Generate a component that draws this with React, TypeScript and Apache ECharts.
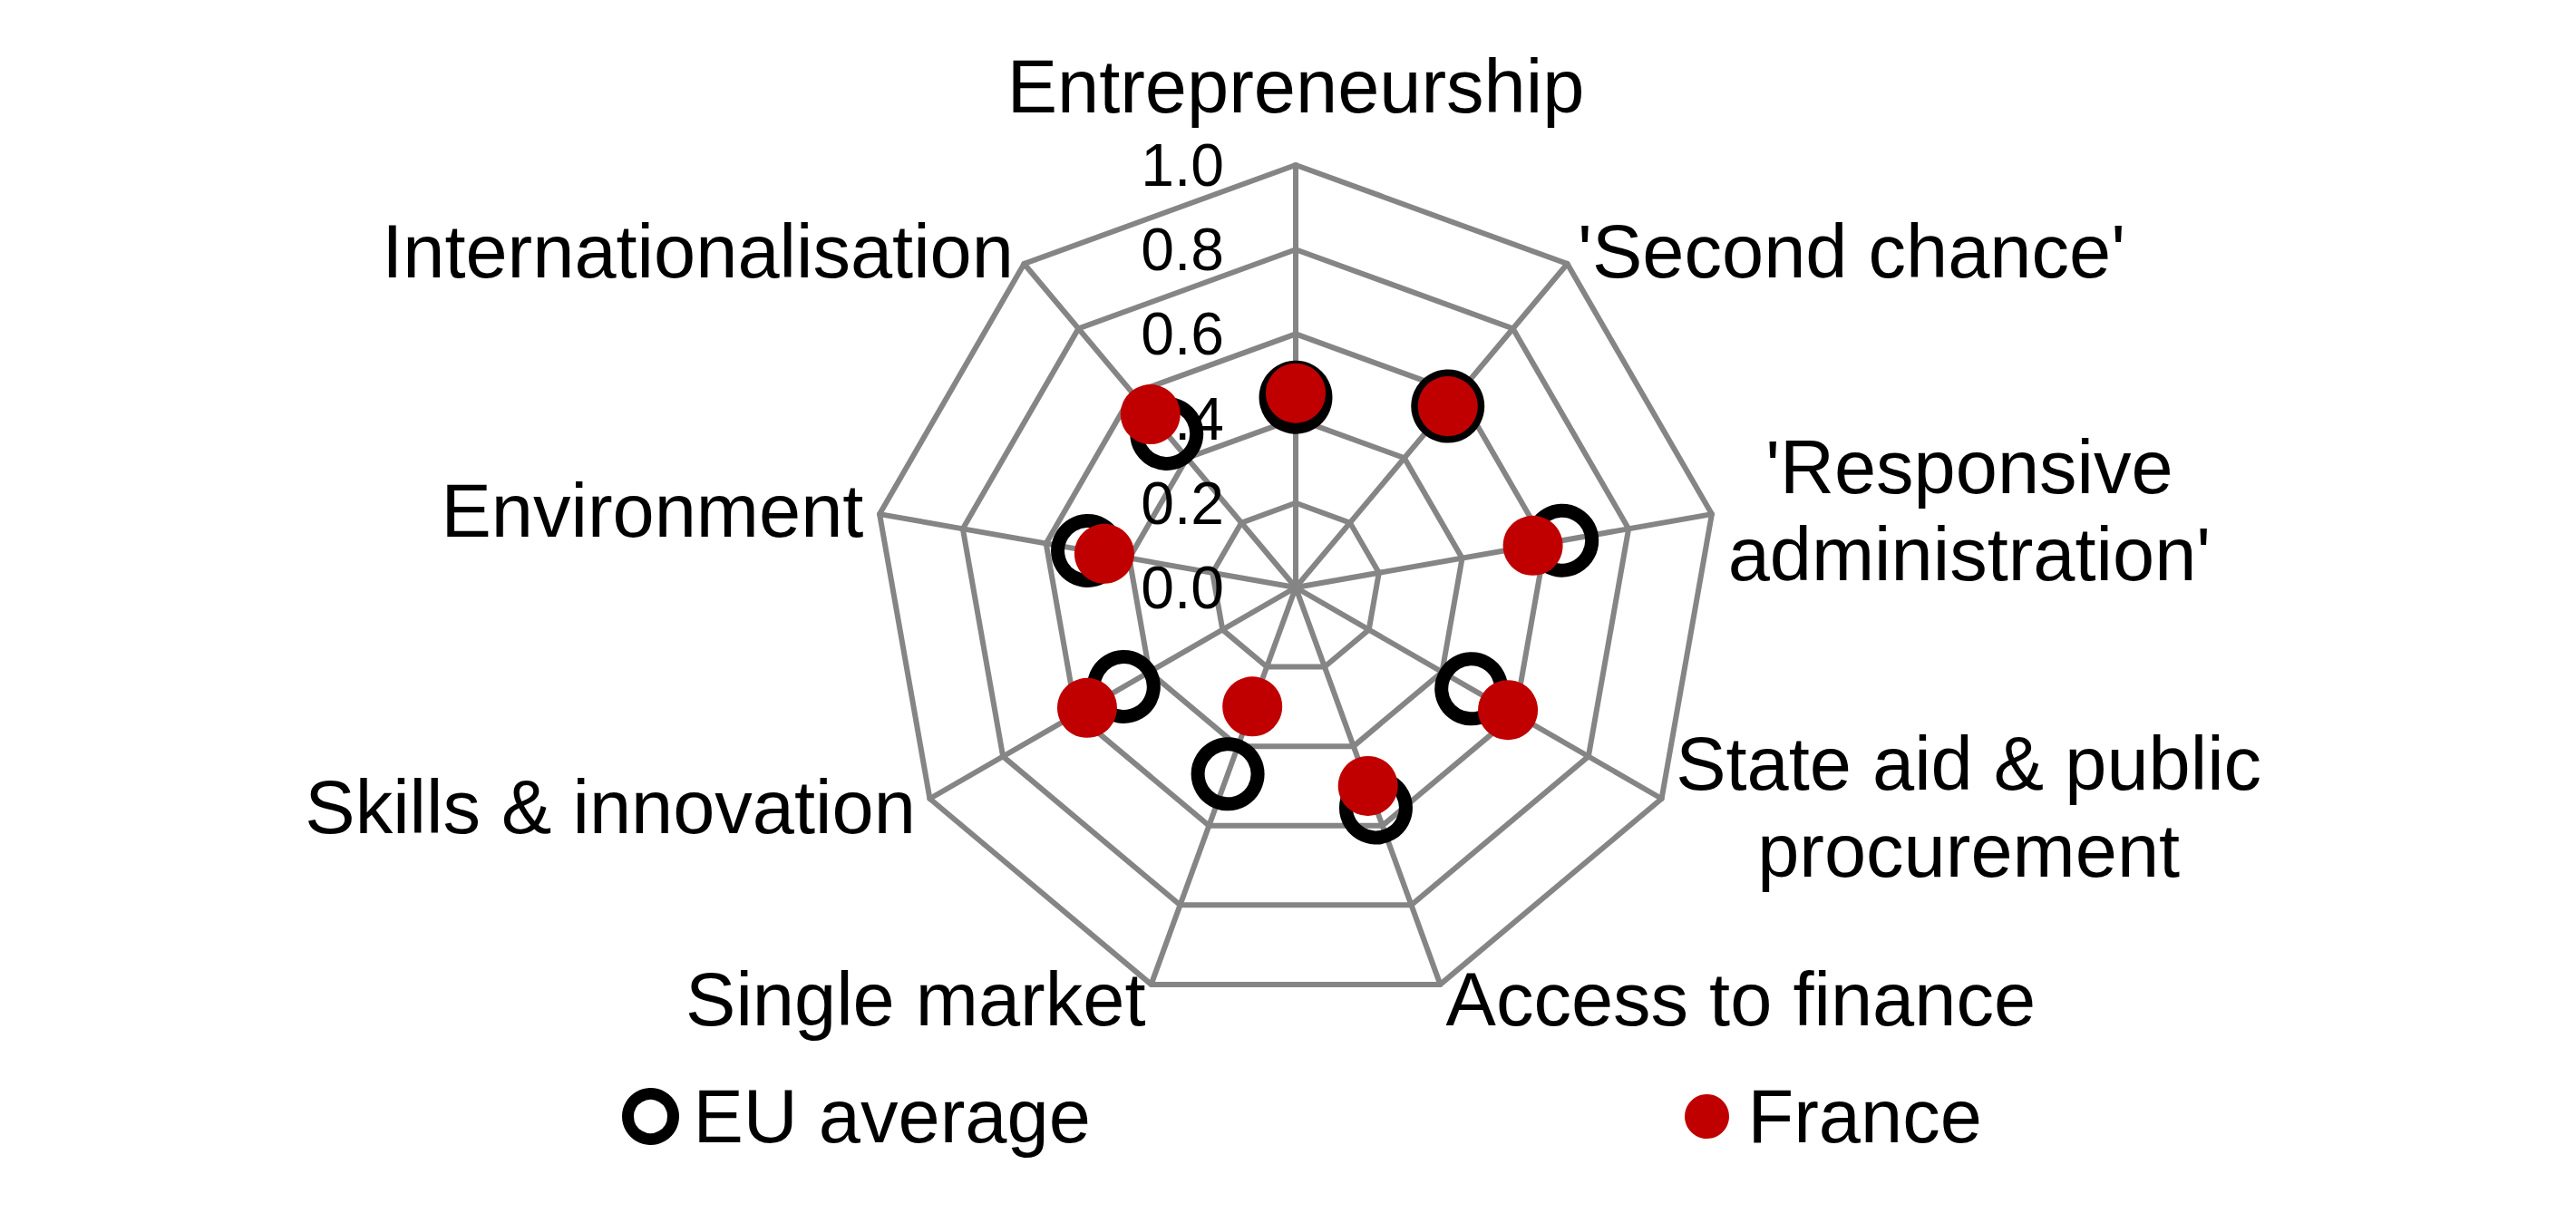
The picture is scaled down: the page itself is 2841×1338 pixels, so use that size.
import React, { useEffect, useRef } from "react";
import * as echarts from "echarts";

// Indicators listed in ECharts' drawing order (starting at top, counter-clockwise)
const categories = [
  "Entrepreneurship",
  "Internationalisation",
  "Environment",
  "Skills & innovation",
  "Single market",
  "Access to finance",
  "State aid & public\nprocurement",
  "'Responsive\nadministration'",
  "'Second chance'",
];
const euAverage = [0.45, 0.475, 0.5, 0.47, 0.47, 0.555, 0.48, 0.64, 0.56];
const france = [0.46, 0.535, 0.46, 0.57, 0.3, 0.5, 0.58, 0.57, 0.56];
const axisMax = 1.0;
const seriesNames = ["EU average", "France"];

const FONT = "'Liberation Sans', Arial, Helvetica, sans-serif";
const GRID = "#858585";
const RED = "#C00000";

export default function App() {
  const ref = useRef<HTMLDivElement>(null);
  useEffect(() => {
    if (!ref.current) return;
    const chart = echarts.init(ref.current, undefined, { renderer: "svg" });
    const indicator = categories.map((name, i) => {
      const ind: any = { name, min: 0, max: axisMax };
      if (i === 0) {
        ind.axisLabel = {
          show: true,
          fontSize: 66,
          fontFamily: FONT,
          color: "#000",
          margin: 79,
          lineHeight: 50,
          formatter: (v: number) => v.toFixed(1),
        };
      }
      return ind;
    });
    chart.setOption({
      animation: false,
      backgroundColor: "#fff",
      textStyle: { fontFamily: FONT },
      legend: [
        {
          data: [
            {
              name: seriesNames[0],
              icon: "circle",
              itemStyle: { color: "rgba(0,0,0,0)", borderColor: "#000", borderWidth: 13 },
            },
          ],
          left: 686,
          top: 1190,
          padding: 0,
          itemWidth: 84,
          itemHeight: 50,
          textStyle: { fontSize: 83, fontFamily: FONT, color: "#000" },
        },
        {
          data: [{ name: seriesNames[1], icon: "circle", itemStyle: { color: RED, borderWidth: 0 } }],
          left: 1858,
          top: 1190,
          padding: 0,
          itemWidth: 80,
          itemHeight: 49,
          textStyle: { fontSize: 83, fontFamily: FONT, color: "#000" },
        },
      ],
      radar: {
        center: [1429, 648],
        radius: 466,
        startAngle: 90,
        splitNumber: 5,
        shape: "polygon",
        indicator,
        nameGap: 18,
        axisName: {
          color: "#000",
          fontSize: 83,
          fontFamily: FONT,
          formatter: (name: string) =>
            name
              .split("\n")
              .map((l) => (name === categories[0] ? "{t|" + l + "}" : "{c|" + l + "}"))
              .join("\n"),
          rich: {
            c: { fontSize: 83, fontFamily: FONT, color: "#000", align: "center", lineHeight: 96 },
            t: {
              fontSize: 83,
              fontFamily: FONT,
              color: "#000",
              align: "center",
              lineHeight: 96,
              padding: [0, 0, 12, 0],
            },
          },
        },
        axisLine: { lineStyle: { color: GRID, width: 6 } },
        splitLine: { lineStyle: { color: GRID, width: 6 } },
        splitArea: { show: false },
        axisTick: { show: false },
        axisLabel: { show: false },
      },
      series: [
        {
          type: "radar",
          symbol: "circle",
          symbolSize: 66,
          lineStyle: { width: 0, opacity: 0 },
          itemStyle: { color: "rgba(0,0,0,0)", borderColor: "#000", borderWidth: 15 },
          data: [{ name: seriesNames[0], value: euAverage }],
          z: 2,
        },
        {
          type: "radar",
          symbol: "circle",
          symbolSize: 66,
          lineStyle: { width: 0, opacity: 0 },
          itemStyle: { color: RED, borderWidth: 0 },
          data: [{ name: seriesNames[1], value: france }],
          z: 3,
        },
      ],
    });
    return () => chart.dispose();
  }, []);
  return (
    <div
      ref={ref}
      style={{ position: "fixed", left: 0, top: 0, width: 2841, height: 1338, background: "#fff" }}
    />
  );
}
